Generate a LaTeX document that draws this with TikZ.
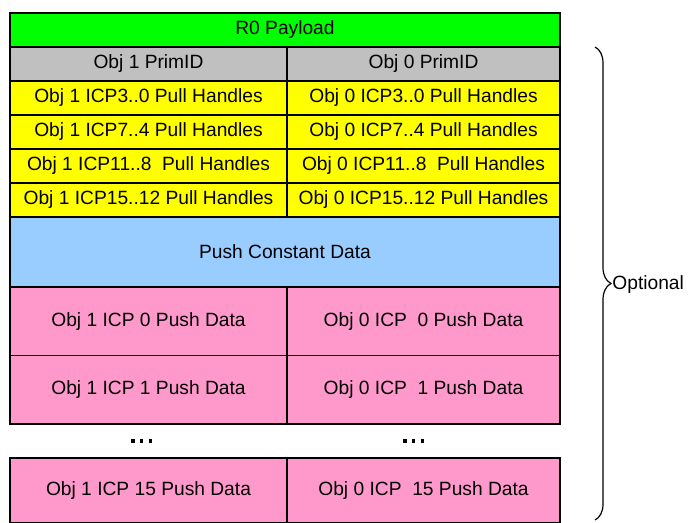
\documentclass[tikz,border=0pt]{standalone}
\usepackage{fontspec}
\setmainfont{Liberation Sans}
\usetikzlibrary{positioning,decorations.pathreplacing}
\definecolor{payload}{HTML}{00FF00}
\definecolor{primid}{HTML}{C0C0C0}
\definecolor{pull}{HTML}{FFFF00}
\definecolor{constant}{HTML}{99CCFF}
\definecolor{push}{HTML}{FF99CC}

\begin{document}
\begin{tikzpicture}[
  cell/.style={draw, line width=0.6pt, inner sep=0pt, outer sep=0pt, font=\fontsize{9.6}{11}\selectfont, minimum height=17pt},
  wide/.style={cell, minimum width=275pt},
  lcell/.style={cell, minimum width=138.5pt},
  rcell/.style={cell, minimum width=136.5pt},
  tall/.style={minimum height=34.25pt},
  dots/.style={inner sep=0pt, outer sep=0pt, minimum height=17pt},
  brc/.style={decorate, decoration={brace, amplitude=8pt}, line width=0.6pt}
]
\useasboundingbox (0,0) rectangle (345pt,-261.5pt);
\node[wide, fill=payload, anchor=north west] (r0) at (5pt,-6.5pt) {R0 Payload};
\node[lcell, fill=primid, below=0pt of r0.south west, anchor=north west] (id1) {Obj 1 PrimID};
\node[rcell, fill=primid, right=0pt of id1] (id0) {Obj 0 PrimID};
\node[lcell, fill=pull, below=0pt of id1] (h1a) {Obj 1 ICP3..0 Pull Handles};
\node[rcell, fill=pull, right=0pt of h1a] (h0a) {Obj 0 ICP3..0 Pull Handles};
\node[lcell, fill=pull, below=0pt of h1a] (h1b) {Obj 1 ICP7..4 Pull Handles};
\node[rcell, fill=pull, right=0pt of h1b] (h0b) {Obj 0 ICP7..4 Pull Handles};
\node[lcell, fill=pull, below=0pt of h1b] (h1c) {Obj 1 ICP11..8\ \ Pull Handles};
\node[rcell, fill=pull, right=0pt of h1c] (h0c) {Obj 0 ICP11..8\ \ Pull Handles};
\node[lcell, fill=pull, below=0pt of h1c] (h1d) {Obj 1 ICP15..12 Pull Handles};
\node[rcell, fill=pull, right=0pt of h1d] (h0d) {Obj 0 ICP15..12 Pull Handles};
\node[wide, fill=constant, minimum height=35pt, below=0pt of h1d.south west, anchor=north west] (pc) {Push Constant Data};
\node[lcell, tall, fill=push, below=0pt of pc.south west, anchor=north west] (p1a) {Obj 1 ICP\ 0 Push Data};
\node[rcell, tall, fill=push, right=0pt of p1a] (p0a) {Obj 0 ICP\ \ 0 Push Data};
\node[lcell, tall, fill=push, below=0pt of p1a] (p1b) {Obj 1 ICP 1 Push Data};
\node[rcell, tall, fill=push, right=0pt of p1b] (p0b) {Obj 0 ICP\ \ 1 Push Data};
\node[dots, below=0pt of p1b, xshift=-3.5pt] (d1) {\rule{1.6pt}{1.6pt}\hspace{2.7pt}\rule{1.6pt}{1.6pt}\hspace{2.7pt}\rule{1.6pt}{1.6pt}};
\node[dots, below=0pt of p0b, xshift=-5pt] (d0) {\rule{1.6pt}{1.6pt}\hspace{2.7pt}\rule{1.6pt}{1.6pt}\hspace{2.7pt}\rule{1.6pt}{1.6pt}};
\node[lcell, fill=push, minimum height=32.5pt, below=17pt of p1b.south west, anchor=north west] (p1f) {Obj 1 ICP 15 Push Data};
\node[rcell, fill=push, minimum height=32.5pt, right=0pt of p1f] (p0f) {Obj 0 ICP\ \ 15 Push Data};
\coordinate (bt) at (297.5pt,-23.5pt);
\coordinate (bb) at (297.5pt,-260pt);
\draw[brc] (bt) -- (bb);
\node[inner sep=0pt, anchor=west, font=\fontsize{9.6}{11}\selectfont] (opt) at (306pt,-142.5pt) {Optional};
\end{tikzpicture}
\end{document}
